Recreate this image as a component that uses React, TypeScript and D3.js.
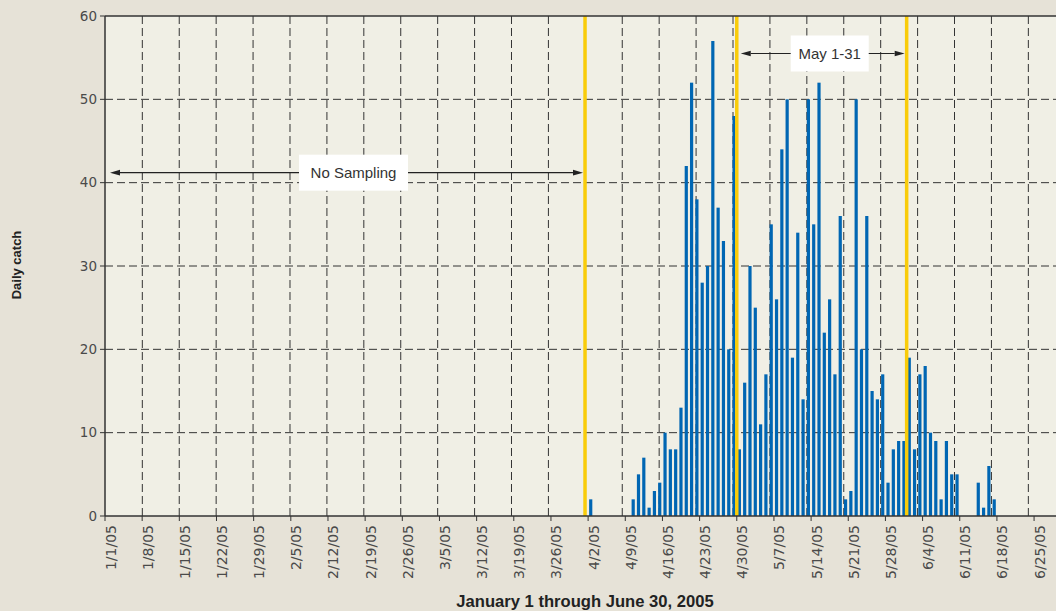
import React from 'react';
import * as d3 from 'd3';

const W = 1056;
const H = 611;
const plotLeft = 105;
const plotTop = 16;
const plotBottom = 516;
const pxPerDay = 5.309;

// x tick labels, one every week
const tickLabels = [
  '1/1/05', '1/8/05', '1/15/05', '1/22/05', '1/29/05', '2/5/05', '2/12/05',
  '2/19/05', '2/26/05', '3/5/05', '3/12/05', '3/19/05', '3/26/05', '4/2/05',
  '4/9/05', '4/16/05', '4/23/05', '4/30/05', '5/7/05', '5/14/05', '5/21/05',
  '5/28/05', '6/4/05', '6/11/05', '6/18/05', '6/25/05',
];
const yTicks = [0, 10, 20, 30, 40, 50, 60];

// daily catch, one value per day starting 4/2/05
const catchStart = '4/2/05';
const dailyCatch = [
  2, 0, 0, 0, 0, 0, 0, 0, // 4/2 - 4/9
  2, 5, 7, 1, 3, 4, 10, 8, 8, 13, // 4/10 - 4/19
  42, 52, 38, 28, 30, 57, 37, 33, 20, 48, 8, // 4/20 - 4/30
  16, 30, 25, 11, 17, 35, 26, 44, 50, 19, // 5/1 - 5/10
  34, 14, 50, 35, 52, 22, 26, 17, 36, 2, // 5/11 - 5/20
  3, 50, 20, 36, 15, 14, 17, 4, 8, 9, 9, // 5/21 - 5/31
  19, 8, 17, 18, 10, 9, 2, 9, 5, 5, // 6/1 - 6/10
  0, 0, 0, 4, 1, 6, 2, // 6/11 - 6/17
];

// yellow period markers
const markerDates = ['2005-04-01T10:00:00Z', '2005-04-30T00:00:00Z', '2005-06-01T00:00:00Z'];

const parseDate = d3.utcParse('%m/%d/%y');
const start = new Date(Date.UTC(2005, 0, 1));
const end = new Date(Date.UTC(2005, 6, 1));

const x = d3.scaleUtc().domain([start, end]).range([plotLeft, plotLeft + 181 * pxPerDay]);
// the printed grid drifts slightly from the ticks
const gridX = d3.scaleUtc().domain([start, end]).range([plotLeft + 0.4, plotLeft + 0.4 + 181 * 5.274]);
const y = d3.scaleLinear().domain([0, 60]).range([plotBottom, plotTop]);

const catchData = dailyCatch.map((v, i) => ({
  date: d3.utcDay.offset(parseDate(catchStart) as Date, i),
  value: v,
}));
const markers = markerDates.map((d) => d3.isoParse(d) as Date);

const font = 'Liberation Sans, Arial, sans-serif';
const tickFont = 'DejaVu Sans, Verdana, sans-serif';

const Arrow = ({ x1, x2, yy, label, boxW }: { x1: number; x2: number; yy: number; label: string; boxW: number }) => {
  const cx = (x1 + x2) / 2 + 7;
  const head = 10;
  const hw = 2.8;
  return (
    <g>
      <line x1={x1 + head} x2={x2 - head} y1={yy} y2={yy} stroke="#222" strokeWidth={1.2} />
      <path d={`M${x1},${yy} L${x1 + head},${yy - hw} L${x1 + head},${yy + hw} Z`} fill="#222" />
      <path d={`M${x2},${yy} L${x2 - head},${yy - hw} L${x2 - head},${yy + hw} Z`} fill="#222" />
      <rect x={cx - boxW / 2} y={yy - 18} width={boxW} height={36} fill="#fff" />
      <text x={cx} y={yy + 5.5} textAnchor="middle" fontFamily={font} fontSize={15} fill="#333">
        {label}
      </text>
    </g>
  );
};

export default function App() {
  const ticks = tickLabels.map((t) => ({ label: t, date: parseDate(t) as Date }));
  return (
    <svg width={W} height={H} style={{ position: 'absolute', left: 0, top: 0 }}>
      <rect x={0} y={0} width={W} height={H} fill="#e6e2d7" />
      <rect x={plotLeft} y={plotTop} width={W - plotLeft + 20} height={plotBottom - plotTop} fill="#f0efe5" />

      {/* grid */}
      {yTicks.slice(1, -1).map((v) => (
        <line key={'h' + v} x1={plotLeft} x2={W} y1={y(v)} y2={y(v)} stroke="#333" strokeWidth={1} strokeDasharray="8,4" />
      ))}
      {ticks.slice(1).map((t) => (
        <line key={'v' + t.label} x1={gridX(t.date)} x2={gridX(t.date)} y1={plotTop} y2={plotBottom}
          stroke="#333" strokeWidth={1} strokeDasharray="8,4" />
      ))}

      {/* bars */}
      {catchData.filter((d) => d.value > 0).map((d) => (
        <rect key={d.date.toISOString()} x={x(d.date) + 1} y={y(d.value)} width={3.2}
          height={y(0) - y(d.value)} fill="#0066b3" />
      ))}

      {/* markers */}
      {markers.map((m, i) => (
        <line key={'m' + i} x1={x(m)} x2={x(m)} y1={plotTop} y2={plotBottom} stroke="#f9cc0a" strokeWidth={3.5} />
      ))}

      <Arrow x1={x(start) + 5} x2={x(markers[0]) - 2} yy={y(41.2)} label="No Sampling" boxW={109} />
      <Arrow x1={x(markers[1]) + 4} x2={x(markers[2]) - 2} yy={y(55.5)} label="May 1-31" boxW={78} />

      {/* axes */}
      <line x1={plotLeft} x2={W} y1={plotTop} y2={plotTop} stroke="#333" strokeWidth={1.5} />
      <line x1={plotLeft} x2={W} y1={plotBottom} y2={plotBottom} stroke="#333" strokeWidth={1.5} />
      <line x1={plotLeft} x2={plotLeft} y1={plotTop} y2={plotBottom} stroke="#333" strokeWidth={1.5} />

      {yTicks.map((v) => (
        <g key={'yt' + v}>
          <line x1={plotLeft - 5} x2={plotLeft} y1={y(v)} y2={y(v)} stroke="#333" strokeWidth={1} />
          <text x={plotLeft - 8} y={y(v) + 4.5} textAnchor="end" fontFamily={tickFont} fontSize={13.5} fill="#4a4a4a">
            {v}
          </text>
        </g>
      ))}
      {ticks.map((t) => (
        <g key={'xt' + t.label}>
          <line x1={x(t.date)} x2={x(t.date)} y1={plotBottom} y2={plotBottom + 5} stroke="#333" strokeWidth={1} />
          <text transform={`translate(${x(t.date)},${plotBottom + 9}) rotate(-90)`} dy={10.5} textAnchor="end"
            fontFamily={tickFont} fontSize={14} fill="#4a4a4a">
            {t.label}
          </text>
        </g>
      ))}

      <text transform="translate(21,265) rotate(-90)" textAnchor="middle" fontFamily={font} fontWeight="bold"
        fontSize={13} fill="#222">
        Daily catch
      </text>
      <text x={585} y={607} textAnchor="middle" fontFamily={font} fontWeight="bold" fontSize={16.6} fill="#222">
        January 1 through June 30, 2005
      </text>
    </svg>
  );
}
